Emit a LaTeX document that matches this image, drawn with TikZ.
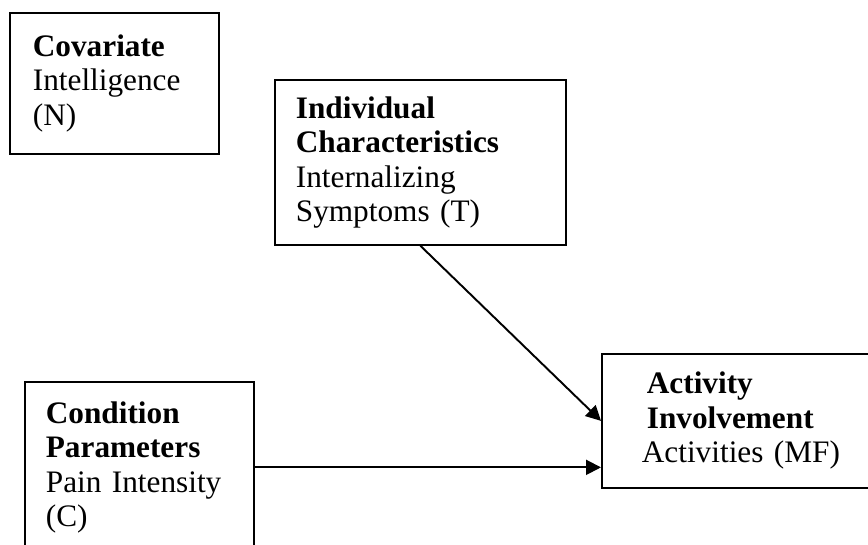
\documentclass[tikz,border=0pt]{standalone}
\usepackage{fontspec}
\setmainfont{Liberation Serif}
\usetikzlibrary{positioning,arrows.meta}

\begin{document}
\begin{tikzpicture}[
    x=0.02cm,y=-0.02cm,
    every node/.style={font=\fontsize{17.8pt}{19.6pt}\selectfont,align=left},
    box/.style={draw=black,line width=1pt,anchor=north west,inner ysep=0pt}
  ]
  \useasboundingbox (0,0) rectangle (868,544);
  \node[box,inner xsep=0.46cm,text width=3.26cm,minimum height=2.82cm] (cov)  at (9,12)   {\textbf{Covariate}\\Intelligence\\(N)};
  \node[box,inner xsep=0.42cm,text width=4.98cm,minimum height=3.3cm]  (ind)  at (274,79)  {\textbf{Individual}\\\textbf{Characteristics}\\Internalizing\\Symptoms (T)};
  \node[box,inner xsep=0.42cm,text width=3.74cm,minimum height=3.42cm] (cond) at (24,381)  {\textbf{Condition}\\\textbf{Parameters}\\Pain Intensity\\(C)};
  \node[box,inner xsep=0.8cm,text width=4.4cm,minimum height=2.68cm]   (act)  at (601,353) {\textbf{\hspace*{0.1cm}Activity}\\\textbf{\hspace*{0.1cm}Involvement}\\Activities (MF)};
  \draw[-{Triangle[length=8.5pt,width=8.5pt]},line width=1.1pt] (ind.south) -- (act.west);
  \draw[-{Triangle[length=8.5pt,width=8.5pt]},line width=1.1pt] (cond.east) -- (cond.east -| act.west);
\end{tikzpicture}
\end{document}
